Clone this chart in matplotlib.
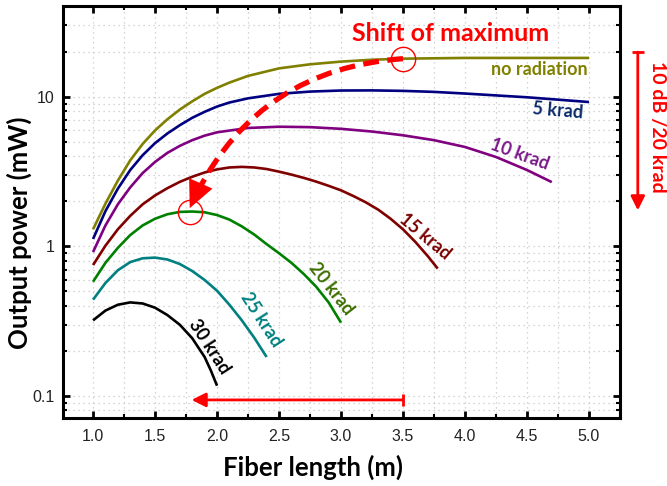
import matplotlib
matplotlib.use("Agg")
import matplotlib.pyplot as plt
from matplotlib.ticker import FixedLocator, MultipleLocator, LogLocator, NullFormatter
import matplotlib.transforms as mtransforms

# fiber length (m) and output power (mW)
x_none = [1.0, 1.1, 1.2, 1.3, 1.4, 1.5, 1.6, 1.7, 1.8, 1.9, 2.0, 2.1, 2.25, 2.5, 2.75, 3.0, 3.25, 3.5, 4.0, 4.5, 5.0]
p_none = [1.30, 1.93, 2.75, 3.76, 4.84, 5.96, 7.08, 8.22, 9.33, 10.47, 11.48, 12.45, 13.8, 15.5, 16.5,
          17.2, 17.7, 18.0, 18.2, 18.2, 18.2]

x_5 = [1.0, 1.1, 1.2, 1.3, 1.4, 1.5, 1.6, 1.7, 1.8, 1.9, 2.0, 2.1, 2.25, 2.5, 2.75, 3.0, 3.25, 3.5, 3.75, 4.0, 4.5, 5.0]
p_5 = [1.12, 1.72, 2.43, 3.24, 4.07, 4.90, 5.69, 6.46, 7.24, 7.94, 8.61, 9.16, 9.77, 10.47, 10.84,
       11.02, 11.04, 10.96, 10.79, 10.52, 9.93, 9.23]

x_10 = [1.0, 1.1, 1.2, 1.3, 1.4, 1.5, 1.6, 1.7, 1.8, 1.9, 2.0, 2.25, 2.5, 2.75, 3.0, 3.25, 3.5, 3.75, 4.0, 4.25, 4.5, 4.7]
p_10 = [0.916, 1.38, 1.91, 2.48, 3.09, 3.67, 4.22, 4.70, 5.13, 5.50, 5.79, 6.19, 6.31, 6.27, 6.11,
        5.86, 5.53, 5.13, 4.62, 3.96, 3.24, 2.69]

x_15 = [1.0, 1.1, 1.2, 1.3, 1.4, 1.5, 1.6, 1.7, 1.8, 1.9, 2.0, 2.1, 2.2, 2.3, 2.4, 2.5, 2.6, 2.7, 2.8,
        2.9, 3.0, 3.1, 3.2, 3.3, 3.4, 3.5, 3.6, 3.7, 3.78]
p_15 = [0.75, 1.01, 1.30, 1.60, 1.91, 2.19, 2.45, 2.70, 2.92, 3.12, 3.27, 3.37, 3.40, 3.37, 3.29, 3.16,
        3.02, 2.87, 2.71, 2.54, 2.37, 2.17, 1.97, 1.76, 1.53, 1.30, 1.07, 0.86, 0.71]

x_20 = [1.0, 1.1, 1.2, 1.3, 1.4, 1.5, 1.6, 1.7, 1.8, 1.9, 2.0, 2.1, 2.2, 2.3, 2.4, 2.5, 2.6, 2.7, 2.8, 2.9, 3.0]
p_20 = [0.58, 0.776, 0.977, 1.19, 1.38, 1.53, 1.64, 1.70, 1.71, 1.69, 1.62, 1.51, 1.36, 1.20, 1.035,
        0.90, 0.776, 0.653, 0.537, 0.422, 0.309]

x_25 = [1.0, 1.1, 1.2, 1.3, 1.4, 1.5, 1.6, 1.7, 1.8, 1.9, 2.0, 2.1, 2.2, 2.3, 2.4]
p_25 = [0.44, 0.569, 0.692, 0.785, 0.832, 0.841, 0.817, 0.762, 0.684, 0.596, 0.505, 0.407, 0.320, 0.245, 0.182]

x_30 = [1.0, 1.1, 1.2, 1.3, 1.4, 1.5, 1.6, 1.7, 1.8, 1.9, 1.95, 2.0]
p_30 = [0.32, 0.372, 0.407, 0.422, 0.415, 0.389, 0.347, 0.299, 0.243, 0.182, 0.148, 0.117]

labels = ["no radiation", "5 krad", "10 krad", "15 krad", "20 krad", "25 krad", "30 krad"]
line_colors = ["#808000", "#000080", "#800080", "#800000", "#008000", "#008080", "#000000"]
text_colors = ["#808000", "#0a2a6b", "#7a1a8a", "#7a0000", "#3c6e00", "#008080", "#000000"]
# label anchor (x, y) and angle
label_pos = [(4.60, 15.3), (4.75, 8.1), (4.44, 4.12), (3.68, 1.17), (2.92, 0.525), (2.355, 0.323), (1.935, 0.214)]
label_rot = [0, -5, -20, -40, -52, -57, -57]

# maximum positions for the "shift" annotation
max_start = (3.5, 18.0)
max_end = (1.78, 1.80)
circle_end = (1.78, 1.70)
shift_y = 0.094

series = [(x_none, p_none), (x_5, p_5), (x_10, p_10), (x_15, p_15),
          (x_20, p_20), (x_25, p_25), (x_30, p_30)]

lab_font = "Lato"
plt.rcParams["font.family"] = ["Liberation Sans", "DejaVu Sans"]

fig = plt.figure(figsize=(6.67, 4.86), dpi=100)
ax = fig.add_axes([0.0945, 0.14, 0.835, 0.848])

for (xs, ps), c in zip(series, line_colors):
    ax.plot(xs, ps, color=c, lw=1.9, solid_capstyle="butt", solid_joinstyle="round", zorder=3)

for lab, (lx, ly), rot, tc in zip(labels, label_pos, label_rot, text_colors):
    ax.text(lx, ly, lab, color=tc, rotation=rot, ha="center", va="center",
            fontsize=13, fontweight="bold", family=lab_font, rotation_mode="anchor", zorder=4)

ax.set_yscale("log")
ax.set_xlim(0.758, 5.25)
ax.set_ylim(0.0712, 40.6)

ax.xaxis.set_major_locator(FixedLocator([1.0, 1.5, 2.0, 2.5, 3.0, 3.5, 4.0, 4.5, 5.0]))
ax.xaxis.set_minor_locator(MultipleLocator(0.25))
ax.set_xticklabels(["1.0", "1.5", "2.0", "2.5", "3.0", "3.5", "4.0", "4.5", "5.0"])
ax.yaxis.set_major_locator(FixedLocator([0.1, 1, 10]))
ax.set_yticklabels(["0.1", "1", "10"])
ax.yaxis.set_minor_locator(LogLocator(base=10, subs=range(2, 10)))
ax.yaxis.set_minor_formatter(NullFormatter())

ax.tick_params(which="both", direction="in", top=True, right=True, labelsize=11.5,
               labelcolor="#222222")
ax.tick_params(which="major", length=5, width=2)
ax.tick_params(which="minor", length=3, width=1.5)
ax.tick_params(axis="x", which="major", pad=8)
ax.tick_params(axis="y", which="major", pad=6)
for sp in ax.spines.values():
    sp.set_linewidth(2.2)

ax.grid(True, which="both", color="#c8c8c8", linestyle=(0, (1, 3)), lw=0.9, zorder=0)

ax.set_xlabel("Fiber length (m)", fontsize=18.5, fontweight="bold", family=lab_font)
ax.set_ylabel("Output power (mW)", fontsize=18.5, fontweight="bold", family=lab_font)
ax.xaxis.set_label_coords(0.449, -0.088)
ax.yaxis.set_label_coords(-0.056, 0.45)

# shift of maximum: dashed curve, then a solid head on the same arc
arc = "arc3,rad=0.3"
ax.annotate("", xy=max_end, xytext=max_start,
            arrowprops=dict(arrowstyle="-", color="red", lw=3.8, linestyle=(0, (3, 1.6)),
                            capstyle="butt", connectionstyle=arc, shrinkA=0, shrinkB=13),
            zorder=5)
ax.annotate("", xy=max_end, xytext=max_start,
            arrowprops=dict(arrowstyle="-|>,head_length=0.85,head_width=0.4", color="red",
                            lw=0, mutation_scale=23, connectionstyle=arc, shrinkA=0, shrinkB=0),
            zorder=5)
ax.plot([max_start[0], circle_end[0]], [max_start[1], circle_end[1]], "o", ms=17.5,
        mfc="none", mec="red", mew=1.0, zorder=6)
ax.text(3.88, 26.6, "Shift of maximum", color="red", fontsize=18, fontweight="bold",
        family=lab_font, ha="center", va="center")

# horizontal shift arrow
ax.annotate("", xy=(1.795, shift_y), xytext=(max_start[0], shift_y),
            arrowprops=dict(arrowstyle="-|>,head_length=0.6,head_width=0.3", color="red",
                            lw=2, mutation_scale=14, shrinkA=0, shrinkB=0))
ax.plot([max_start[0]], [shift_y], marker="|", ms=8, mew=2, color="red")

# right side: 10 dB per 20 krad
tr = mtransforms.blended_transform_factory(ax.transAxes, ax.transData)
ax.annotate("", xy=(1.032, 1.74), xycoords=tr, xytext=(1.032, 19.9), textcoords=tr,
            arrowprops=dict(arrowstyle="-|>,head_length=0.6,head_width=0.3", color="red",
                            lw=2, mutation_scale=14, shrinkA=0, shrinkB=0),
            annotation_clip=False)
ax.plot([1.032], [19.9], marker="_", ms=8, mew=2, color="red", transform=tr, clip_on=False)
ax.text(1.068, 6.25, "10 dB /20 krad", color="red", fontsize=14, fontweight="bold",
        family=lab_font, rotation=-90, ha="center", va="center", transform=tr)

fig.savefig("out.png", dpi=100)
